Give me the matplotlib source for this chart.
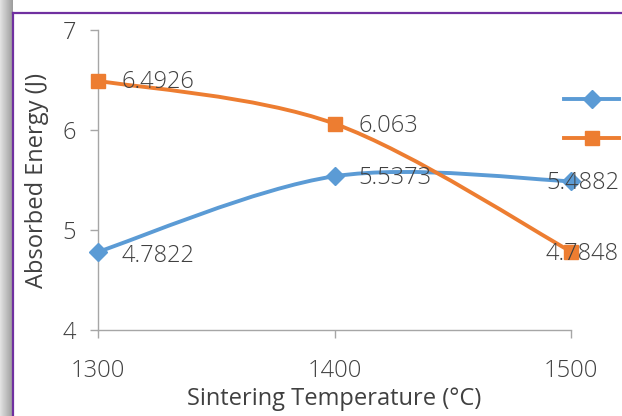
import matplotlib.pyplot as plt
import numpy as np
from matplotlib.path import Path
from matplotlib.patches import PathPatch
from matplotlib.lines import Line2D

temps = [1300, 1400, 1500]
energy_a = [4.7822, 5.5373, 5.4882]
energy_b = [6.4926, 6.063, 4.7848]
yticks = [4, 5, 6, 7]

blue = '#5B9BD5'
orange = '#ED7D31'
txt = '#404040'
fs = 17
plt.rcParams['font.family'] = ['Open Sans', 'DejaVu Sans']
plt.rcParams['font.weight'] = 'light'


def smooth_path(x, y):
    # excel-style smoothed line: cubic bezier through the points
    pts = np.column_stack([x, y]).astype(float)
    n = len(pts)
    verts = [pts[0]]
    codes = [Path.MOVETO]
    for i in range(n - 1):
        p0 = pts[max(i - 1, 0)]
        p1 = pts[i]
        p2 = pts[i + 1]
        p3 = pts[min(i + 2, n - 1)]
        verts += [p1 + (p2 - p0) / 6, p2 - (p3 - p1) / 6, p2]
        codes += [Path.CURVE4] * 3
    return Path(verts, codes)


fig = plt.figure(figsize=(6.22, 4.16), dpi=100)
ax = fig.add_axes([98 / 622, 86 / 416, 473 / 622, 300 / 416])

for vals, col, mk, ms in [(energy_a, blue, 'D', 9), (energy_b, orange, 's', 10)]:
    ax.add_patch(PathPatch(smooth_path(temps, vals), fc='none', ec=col, lw=2.8,
                           capstyle='round', zorder=2))
    ax.plot(temps, vals, ls='none', marker=mk, ms=ms, color=col, zorder=3, clip_on=False)

# data labels (offsets in points)
offs_a = [(17, -3), (17, -1.5), (34.5, -1)]
offs_b = [(17, -1), (17, -2), (34.5, -2)]
for vals, offs in [(energy_a, offs_a), (energy_b, offs_b)]:
    for x, v, (dx, dy) in zip(temps, vals, offs):
        ha = 'right' if x == temps[-1] else 'left'
        ax.annotate(str(v), (x, v), xytext=(dx, dy), textcoords='offset points',
                    ha=ha, va='center', fontsize=fs, color=txt, zorder=5)

ax.set_xlim(1300, 1500)
ax.set_ylim(4, 7)
ax.set_xticks(temps)
ax.set_yticks(yticks)
for s in ['top', 'right']:
    ax.spines[s].set_visible(False)
for s in ['left', 'bottom']:
    ax.spines[s].set_color('#A6A6A6')
    ax.spines[s].set_linewidth(1)
ax.tick_params(colors='#A6A6A6', labelcolor=txt, labelsize=fs, length=6, width=1)
ax.tick_params(axis='y', pad=10)
ax.tick_params(axis='x', pad=15)
ax.set_xlabel('Sintering Temperature (°C)', fontsize=fs, color=txt, labelpad=3)
ax.set_ylabel('Absorbed Energy (J)', fontsize=fs, color=txt)
ax.yaxis.set_label_coords(-49 / 473, 0.5)

handles = [Line2D([], [], color=blue, marker='D', ms=9, lw=2.8),
           Line2D([], [], color=orange, marker='s', ms=10, lw=2.8)]
fig.legend(handles, ['', ''], loc='upper left', bbox_to_anchor=(553 / 622, 1 - 80 / 416),
           frameon=False, fontsize=16, handlelength=2.48, borderpad=0, handletextpad=0,
           labelspacing=0.8)

# chart frame with shadow
shade = fig.add_axes([0, 0, 12 / 622, 1], zorder=-1)
shade.imshow(np.linspace(0.88, 0.62, 12)[None, :], cmap='gray', vmin=0, vmax=1,
             aspect='auto', extent=[0, 1, 0, 1])
shade.axis('off')
fig.add_artist(Line2D([12.5 / 622, 12.5 / 622], [0, 1 - 13 / 416], color='#7030A0', lw=1.6))
fig.add_artist(Line2D([12.5 / 622, 1], [1 - 13 / 416, 1 - 13 / 416], color='#7030A0', lw=1.6))

fig.savefig('out.png', dpi=100)
